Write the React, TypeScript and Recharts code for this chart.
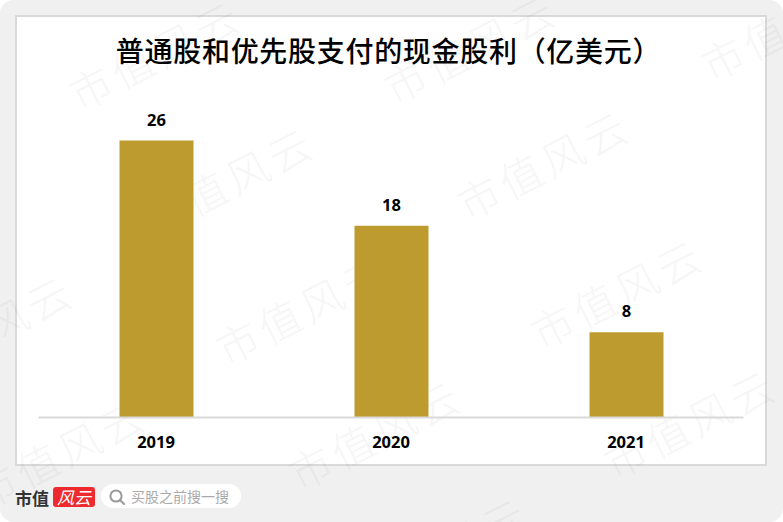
import React from "react";
import { BarChart, Bar, XAxis, YAxis, LabelList } from "recharts";

const years = ["2019", "2020", "2021"];
const dividends = [26, 18, 8];
const chartData = years.map((year, i) => ({ year, value: dividends[i] }));
const watermarkCenters = [
  [155, 53], [228, 180], [302, 308], [375, 433], [470, 47], [543, 163], [617, 292], [690, 422],
  [-13, 328], [60, 452], [787, 24], [442, 550],
];
const cjk = '"Noto Sans CJK SC", "Noto Sans", sans-serif';

export default function App() {
  return (
    <div style={{ position: "absolute", left: 0, top: 0, width: 783, height: 522, background: "#fff", overflow: "hidden" }}>
      <div style={{ position: "absolute", inset: 0, background: "#f0f0f0", borderRadius: 14 }} />
      <div style={{ position: "absolute", left: 15, top: 15, width: 752, height: 451, boxSizing: "border-box", background: "#fff", border: "2px solid #d9d9d9" }} />
      {watermarkCenters.map(([x, y], i) => (
        <div key={i} style={{ position: "absolute", left: x - 120, top: y - 25, width: 240, height: 50, lineHeight: "50px", textAlign: "center", fontFamily: cjk, fontWeight: 300, fontSize: 42, letterSpacing: 5, color: "#000", opacity: 0.03, whiteSpace: "nowrap", transform: "rotate(-27deg)" }}>
          市值风云
        </div>
      ))}
      <div style={{ position: "absolute", left: 0, top: 28, width: 777, textAlign: "center", fontFamily: cjk, fontWeight: 500, fontSize: 28, letterSpacing: 0.7, lineHeight: "44px", color: "#000", whiteSpace: "nowrap" }}>
        普通股和优先股支付的现金股利（亿美元）
      </div>
      <div style={{ position: "absolute", left: 0, top: 0 }}>
        <BarChart width={783} height={522} data={chartData} margin={{ top: 98, right: 39.5, bottom: 64.5, left: 38.5 }}>
          <YAxis hide domain={[0, 30]} />
          <XAxis dataKey="year" height={40} interval={0} tickLine={false} axisLine={{ stroke: "#d9d9d9", strokeWidth: 2 }} tick={{ fill: "#000", fontSize: 16.5, fontWeight: 700, fontFamily: '"Open Sans", sans-serif', dy: 11 }} />
          <Bar dataKey="value" fill="#bd9b2f" barSize={74} isAnimationActive={false}>
            <LabelList dataKey="value" position="top" offset={15} fill="#000" fontSize={16.5} fontWeight={700} fontFamily='"Open Sans", sans-serif' />
          </Bar>
        </BarChart>
      </div>
      <div style={{ position: "absolute", left: 15, top: 486, width: 40, fontFamily: '"Noto Sans CJK SC", serif', fontWeight: 700, fontSize: 17, lineHeight: "24px", color: "#333", whiteSpace: "nowrap" }}>市值</div>
      <div style={{ position: "absolute", left: 53, top: 487, width: 42, height: 20, background: "#ee2a2e", borderRadius: 3, overflow: "hidden", color: "#fff", fontFamily: cjk, fontSize: 17, lineHeight: "20px", textAlign: "center", fontStyle: "italic", whiteSpace: "nowrap" }}>风云</div>
      <div style={{ position: "absolute", left: 101, top: 484, width: 140, height: 24, background: "#fff", borderRadius: 12 }} />
      <svg style={{ position: "absolute", left: 108, top: 488 }} width={18} height={18} viewBox="0 0 18 18">
        <circle cx={8} cy={8} r={5.6} fill="none" stroke="#999" strokeWidth={2} />
        <line x1={12} y1={12} x2={16} y2={16} stroke="#999" strokeWidth={2} strokeLinecap="round" />
      </svg>
      <div style={{ position: "absolute", left: 131, top: 484, fontFamily: cjk, fontSize: 14, lineHeight: "24px", color: "#aaa", whiteSpace: "nowrap" }}>买股之前搜一搜</div>
    </div>
  );
}
